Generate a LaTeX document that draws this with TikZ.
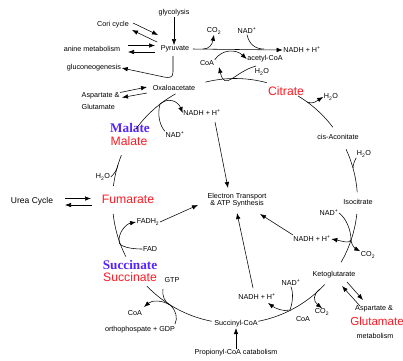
\documentclass[tikz,border=0pt]{standalone}
\usepackage{fontspec}
\setmainfont{Liberation Sans}
\newfontfamily\serifb{Liberation Serif}
\usetikzlibrary{arrows.meta}
\definecolor{kred}{RGB}{255,25,35}
\definecolor{kblue}{RGB}{85,35,255}
\newcommand\cycarc[2]{\draw[ln] plot[domain=#1:#2,samples=30] ({235+122.5*cos(\x)},{201+122.5*sin(\x)});}
\begin{document}
\begin{tikzpicture}[x=1pt,y=-1pt,
  lbl/.style={font=\fontsize{7.2}{8}\selectfont, inner sep=0.5pt},
  big/.style={font=\fontsize{12.2}{13}\selectfont, text=kred, inner sep=0.5pt},
  bigb/.style={font=\serifb\bfseries\fontsize{13.2}{14}\selectfont, text=kblue, inner sep=0.5pt},
  ln/.style={line width=0.55pt},
  arr/.style={ln, -{Latex[length=6pt,width=4.5pt]}},
]
\useasboundingbox (0,0) rectangle (403,360);

% ---------- labels ----------
\node[lbl] (glyc) at (174,13) {glycolysis};
\node[lbl] (cori) at (113,25) {Cori cycle};
\node[lbl] (anine) at (92,49) {anine metabolism};
\node[lbl] (pyr) at (175,49) {Pyruvate};
\node[lbl] (gluco) at (94,68) {gluconeogenesis};
\node[lbl] (oxa) at (174,88) {Oxaloacetate};
\node[lbl,anchor=west] (asp1) at (81,96) {Aspartate \&};
\node[lbl,anchor=west] (glu1) at (81,107) {Glutamate};
\node[lbl] (co2a) at (214,31) {CO\textsubscript{2}};
\node[lbl] (nad1) at (247,31) {NAD\textsuperscript{+}};
\node[lbl] (nadh1) at (302,50) {NADH + H\textsuperscript{+}};
\node[lbl] (coa1) at (207,63) {CoA};
\node[lbl] (acoa) at (265,59) {acetyl-CoA};
\node[lbl] (h2o1) at (262,72) {H\textsubscript{2}O};
\node[big] (cit) at (286,91) {Citrate};
\node[lbl] (h2o2) at (331,97) {H\textsubscript{2}O};
\node[lbl] (cis) at (338,137) {cis-Aconitate};
\node[lbl] (h2o3) at (364,154) {H\textsubscript{2}O};
\node[lbl] (iso) at (358,202) {Isocitrate};
\node[lbl] (nad3) at (329,213) {NAD\textsuperscript{+}};
\node[lbl] (nadh3) at (312,239) {NADH + H\textsuperscript{+}};
\node[lbl] (co2b) at (368,255) {CO\textsubscript{2}};
\node[lbl] (keto) at (334,275) {Ketoglutarate};
\node[lbl] (asp2) at (374,309) {Aspartate \&};
\node[big,font=\fontsize{11.6}{12}\selectfont] (glu2) at (377,321) {Glutamate};
\node[lbl] (met) at (375,336) {metabolism};
\node[lbl] (nad4) at (291,283) {NAD\textsuperscript{+}};
\node[lbl] (co2c) at (322,312) {CO\textsubscript{2}};
\node[lbl] (coa3) at (303,319) {CoA};
\node[lbl] (nadh4) at (257,297) {NADH + H\textsuperscript{+}};
\node[lbl] (succoa) at (236,324) {Succinyl-CoA};
\node[lbl] (prop) at (236,353) {Propionyl-CoA catabolism};
\node[lbl] (gtp) at (172,280) {GTP};
\node[lbl] (coa2) at (135,313) {CoA};
\node[lbl] (ortho) at (140,330) {orthophospate + GDP};
\node[bigb] (succb) at (130,265) {Succinate};
\node[big] (succr) at (130,277) {Succinate};
\node[lbl] (fad) at (150,249) {FAD};
\node[lbl] (fadh2) at (148,222) {FADH\textsubscript{2}};
\node[big] (fum) at (128,199) {Fumarate};
\node[font=\fontsize{8.5}{9}\selectfont, inner sep=0.5pt] (urea) at (32,201) {Urea Cycle};
\node[lbl] (h2o4) at (103,177) {H\textsubscript{2}O};
\node[bigb] (malb) at (130,128) {Malate};
\node[big] (malr) at (129,141) {Malate};
\node[lbl] (nad2) at (175,135) {NAD\textsuperscript{+}};
\node[lbl] (nadh2) at (202,113) {NADH + H\textsuperscript{+}};
\node[lbl,align=center,font=\fontsize{7.2}{7.4}\selectfont] (et) at (237,200) {Electron Transport\\\& ATP Synthesis};

% ---------- main cycle ----------
\cycarc{-144}{-119}
\cycarc{-104}{-75}
\cycarc{-59}{-37}
\cycarc{-25}{-4}
\cycarc{6}{30}
\cycarc{43}{79}
\cycarc{101}{136}
\cycarc{153}{174}
\cycarc{187}{202}

% ---------- junction coordinates ----------
\coordinate (p1) at (203,49);
\coordinate (p2) at (264,49);
\coordinate (jm) at (160,104);
\coordinate (jc) at (307,102);
\coordinate (jci) at (353,168);
\coordinate (ji) at (351,240);
\coordinate (jk) at (290,310);
\coordinate (jk2) at (320,289);
\coordinate (js) at (170,305);
\coordinate (jf) at (119,240);
\coordinate (jh) at (118,165);

% ---------- pyruvate area ----------
\draw[arr] (glyc.south) -- (glyc.south |- pyr.north);
\draw[arr] (133,23) -- (158,35);
\draw[arr] (157,42) -- (132,30);
\draw[arr] (128,45.5) -- (155,45.5);
\draw[arr] (155,52) -- (128,52);
\draw[arr] (173,56) -- (173,72) .. controls (173,78) and (169,78) .. (164,77) -- (gluco.east);
\draw[arr] (120,92.5) -- (147,87);
\draw[arr] (147,93) -- (122,97.5);

% pyruvate -> acetyl-CoA
\draw[arr] ([xshift=3pt]pyr.east) -- (nadh1.west);
\draw[arr] (p1) .. controls (209,49) and (212,45) .. (co2a.south);
\draw[ln] (nad1.south) .. controls (249,44) and (255,49) .. (p2);
\draw[arr] (coa1.north east) .. controls (222,49) and (236,49) .. (acoa.west);
\draw[arr] (256,66) .. controls (234,72) and (225,92) .. (219,67);

% citrate / aconitate
\draw[arr] (jc) .. controls (313,105) and (318,100) .. (h2o2.west);
\draw[ln] (h2o3.south west) .. controls (355,160) and (353,164) .. (jci);

% isocitrate
\draw[ln] (nad3.east) .. controls (346,218) and (351,230) .. (ji);
\draw[arr] (ji) .. controls (349,244) and (342,241) .. (nadh3.east);
\draw[arr] (ji) .. controls (352,247) and (356,249) .. (co2b.north west);

% ketoglutarate
\draw[ln] (nad4.south) .. controls (294,295) and (292,304) .. (jk);
\draw[arr] (jk) .. controls (283,312) and (275,308) .. (268,303);
\draw[arr] (jk2) .. controls (313,294) and (313,301) .. (co2c.north);
\draw[arr] (347,282) -- (363,300);
\draw[arr] (360,306) -- (342,286);

% succinyl-CoA
\draw[arr] (prop.north) -- (succoa.south);
\draw[ln] (163,289) .. controls (162,297) and (165,302) .. (js);
\draw[arr] (js) .. controls (162,300) and (152,300) .. (144,307);
\draw[ln] (175,324) .. controls (178,318) and (176,310) .. (js);

% succinate / fumarate
\draw[arr] (fad.west) .. controls (126,249) and (117,245) .. (jf) .. controls (119,232) and (126,224) .. (fadh2.west);
\draw[ln] (h2o4.east) .. controls (114,174) and (117,170) .. (jh);
\draw[arr] (65,198.5) -- (91,198.5);
\draw[arr] (92,205) -- (65,205);

% malate / oxaloacetate
\draw[arr] (jm) .. controls (168,97) and (178,101) .. (nadh2.west);
\draw[ln] (nad2.north west) .. controls (160,126) and (157,115) .. (jm);

% to electron transport
\draw[arr] (215,122) -- (228,188);
\draw[arr] (293,235) -- (260,214);
\draw[arr] (253,288) -- (237,213);
\draw[arr] (fadh2.east) -- (198,205);
\end{tikzpicture}
\end{document}
